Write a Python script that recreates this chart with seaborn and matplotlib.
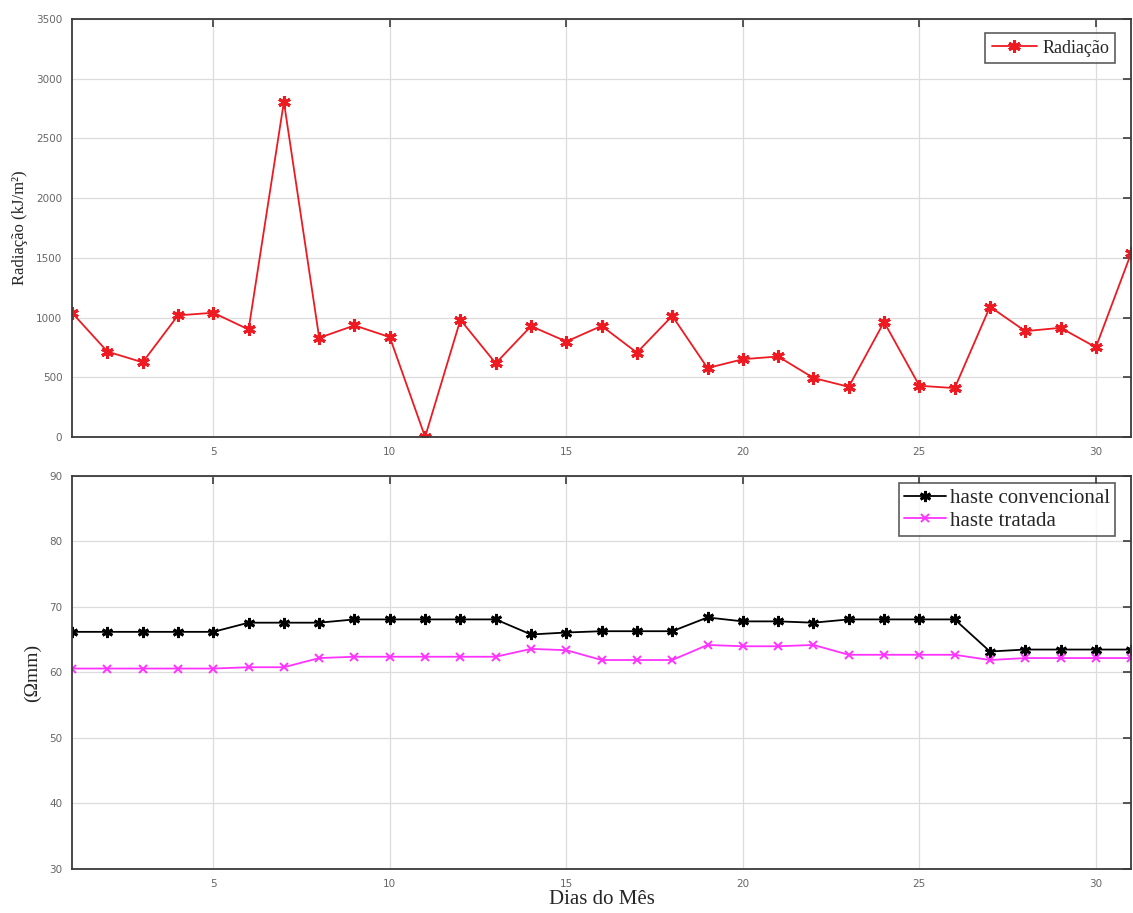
import matplotlib
matplotlib.use("Agg")
import matplotlib.pyplot as plt
import seaborn as sns

# Daily values for one month
dias = list(range(1, 32))
radiacao = [1040, 715, 625, 1018, 1040, 900, 2807, 830, 934, 836,
            0, 981, 617, 928, 799, 930, 706, 1014, 577, 651,
            674, 494, 420, 963, 429, 409, 1091, 886, 914, 751, 1540]
haste_convencional = [66.2, 66.2, 66.2, 66.2, 66.2, 67.6, 67.6, 67.6, 68.1, 68.1,
                      68.1, 68.1, 68.1, 65.8, 66.1, 66.3, 66.3, 66.3, 68.4, 67.8,
                      67.8, 67.6, 68.1, 68.1, 68.1, 68.1, 63.2, 63.5, 63.5, 63.5, 63.5]
haste_tratada = [60.6, 60.6, 60.6, 60.6, 60.6, 60.8, 60.8, 62.2, 62.4, 62.4,
                 62.4, 62.4, 62.4, 63.6, 63.4, 61.9, 61.9, 61.9, 64.2, 64.0,
                 64.0, 64.2, 62.7, 62.7, 62.7, 62.7, 61.9, 62.2, 62.2, 62.2, 62.2]
xticks = [5, 10, 15, 20, 25, 30]
yticks_rad = [0, 500, 1000, 1500, 2000, 2500, 3000, 3500]
yticks_res = [30, 40, 50, 60, 70, 80, 90]

sns.set_style("whitegrid")
plt.rcParams["font.family"] = ["Liberation Serif", "DejaVu Serif"]

# asterisk marker (six-armed line-art star)
ASTERISK = (6, 2, 0)

fig = plt.figure(figsize=(11.33, 9.13), dpi=100)
ax1 = fig.add_axes([0.0636, 0.5214, 0.9348, 0.4578])
ax2 = fig.add_axes([0.0636, 0.0482, 0.9348, 0.4305])


def style_axes(ax, yticks):
    ax.set_xlim(1, 31)
    ax.set_ylim(yticks[0], yticks[-1])
    ax.set_xticks(xticks)
    ax.set_yticks(yticks)
    ax.grid(True, color="#dcdcdc", linewidth=0.9)
    for s in ax.spines.values():
        s.set_visible(True)
        s.set_color("#3a3a3a")
        s.set_linewidth(1.3)
    ax.tick_params(axis="both", which="major", direction="in", length=6,
                   width=1.2, color="#3a3a3a", top=True, right=True,
                   labelsize=7.5, labelcolor="#666666", pad=7)
    for lbl in ax.get_xticklabels() + ax.get_yticklabels():
        lbl.set_fontfamily("DejaVu Sans")


# Solar radiation
sns.lineplot(x=dias, y=radiacao, ax=ax1, color="#ee1a22",
             marker=ASTERISK, markersize=9, markeredgewidth=2.2,
             markeredgecolor="#ee1a22", linewidth=1.3, label="Radiação")
style_axes(ax1, yticks_rad)
ax1.set_xlabel("")
ax1.set_ylabel("Radiação (kJ/m²)", fontsize=12, labelpad=6)
leg1 = ax1.legend(loc="upper right", fontsize=13, frameon=True, fancybox=False,
                  borderpad=0.35, handlelength=2.5, handletextpad=0.3,
                  borderaxespad=0, bbox_to_anchor=(0.985, 0.966))
leg1.get_frame().set_edgecolor("#333333")
leg1.get_frame().set_linewidth(1.2)

# Grounding rod resistance
sns.lineplot(x=dias, y=haste_convencional, ax=ax2, color="black",
             marker=ASTERISK, markersize=8, markeredgewidth=2.0,
             markeredgecolor="black", linewidth=1.3, label="haste convencional")
sns.lineplot(x=dias, y=haste_tratada, ax=ax2, color="#ff33ff",
             marker="x", markersize=6, markeredgewidth=1.4,
             markeredgecolor="#ff33ff", linewidth=1.3, label="haste tratada")
style_axes(ax2, yticks_res)
ax2.set_xlabel("Dias do Mês", fontsize=15, labelpad=1)
ax2.set_ylabel("(Ωmm)", fontsize=14, labelpad=6)
leg2 = ax2.legend(loc="upper right", fontsize=15, frameon=True, fancybox=False,
                  borderpad=0.25, handlelength=2.0, handletextpad=0.2,
                  labelspacing=0.15, borderaxespad=0,
                  bbox_to_anchor=(0.985, 0.982))
leg2.get_frame().set_edgecolor("#333333")
leg2.get_frame().set_linewidth(1.2)

fig.savefig("out.png", dpi=100)
